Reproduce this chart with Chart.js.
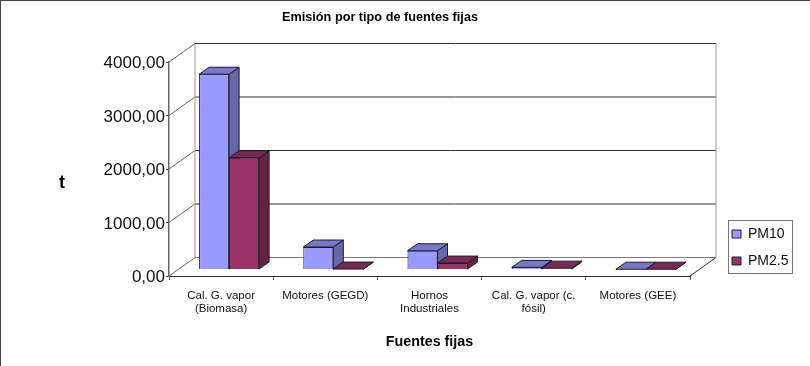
<!DOCTYPE html>
<html>
<head>
<meta charset="utf-8">
<style>
  html, body { margin: 0; padding: 0; background: #fff; }
  #wrap { width: 810px; height: 366px; position: relative; }
</style>
<script src="https://cdn.jsdelivr.net/npm/chart.js@4/dist/chart.umd.min.js"></script>
</head>
<body>
<div id="wrap"><canvas id="emisiones" width="810" height="366"></canvas></div>
<script>
// values
var categories = [
  ['Cal. G. vapor', '(Biomasa)'],
  'Motores (GEGD)',
  ['Hornos', 'Industriales'],
  ['Cal. G. vapor (c.', 'fósil)'],
  'Motores (GEE)'
];
var pm10 = [3650, 420, 350, 40, 5];
var pm25 = [2090, 8, 120, 25, 5];

var FONT = '"Liberation Sans", Arial, sans-serif';

// 3D look: how far the bars sit inside the box, bar depth, and back wall shift
var barShift = { x: 8, y: -6.5 };
var barDepth = { x: 10, y: -7 };
var wallShift = { x: 26, y: -18.5 };

var faceColors = [
  { top: '#7777cc', side: '#6666aa' },
  { top: '#7a2952', side: '#66233f' }
];

function line(ctx, x1, y1, x2, y2, color) {
  ctx.strokeStyle = color;
  ctx.lineWidth = 1;
  ctx.beginPath();
  ctx.moveTo(x1, y1);
  ctx.lineTo(x2, y2);
  ctx.stroke();
}

function poly(ctx, pts, fill) {
  ctx.fillStyle = fill;
  ctx.strokeStyle = '#1c1c2c';
  ctx.lineWidth = 1;
  ctx.lineJoin = 'round';
  ctx.beginPath();
  pts.forEach(function (p, i) {
    if (i === 0) ctx.moveTo(p[0], p[1]);
    else ctx.lineTo(p[0], p[1]);
  });
  ctx.closePath();
  ctx.fill();
  ctx.stroke();
}

// walls, floor and the wall gridlines
function drawBox(chart) {
  var ctx = chart.ctx;
  var a = chart.chartArea;
  var y = chart.scales.y;
  var wx = wallShift.x, wy = wallShift.y;
  y.ticks.forEach(function (t) {
    var py = y.getPixelForValue(t.value);
    line(ctx, a.left, py, a.left + wx, py + wy, '#666');
    if (t.value > 0) line(ctx, a.left + wx, py + wy, a.right + wx, py + wy, '#333');
  });
  line(ctx, a.left + wx, a.bottom + wy, a.right + wx, a.bottom + wy, '#777');
  line(ctx, a.left + wx, a.top + wy, a.left + wx, a.bottom + wy, '#999');
  line(ctx, a.right + wx, a.top + wy, a.right + wx, a.bottom + wy, '#999');
  line(ctx, a.right, a.bottom, a.right + wx, a.bottom + wy, '#333');
}

// top and side of each bar, the library draws the front
function drawBarFaces(chart) {
  var ctx = chart.ctx;
  var dx = barDepth.x, dy = barDepth.y;
  chart.data.datasets.forEach(function (ds, i) {
    chart.getDatasetMeta(i).data.forEach(function (bar) {
      var l = bar.x - bar.width / 2;
      var r = bar.x + bar.width / 2;
      poly(ctx, [[r, bar.y], [r + dx, bar.y + dy], [r + dx, bar.base + dy], [r, bar.base]], faceColors[i].side);
      poly(ctx, [[l, bar.y], [l + dx, bar.y + dy], [r + dx, bar.y + dy], [r, bar.y]], faceColors[i].top);
    });
  });
}

var box3d = {
  id: 'box3d',
  afterLayout: function (chart) {
    // legend sits outside the plot, on the lower right. bottom is left loose
    // or the library wraps the second row into a column that does not exist
    var lg = chart.legend;
    lg.left = 719; lg.right = 800; lg.top = 214; lg.bottom = 320;
    lg.width = 81; lg.height = 106;
  },
  beforeDatasetsDraw: function (chart) {
    var ctx = chart.ctx;
    drawBox(chart);
    ctx.save();
    ctx.translate(barShift.x, barShift.y);
    drawBarFaces(chart);
  },
  afterDatasetsDraw: function (chart) {
    chart.ctx.restore();
  },
  afterDraw: function (chart) {
    var ctx = chart.ctx;
    // title and the unrotated "t"
    ctx.save();
    ctx.fillStyle = '#000';
    ctx.textAlign = 'center';
    ctx.textBaseline = 'middle';
    ctx.font = 'bold 12.7px ' + FONT;
    ctx.fillText('Emisión por tipo de fuentes fijas', 380, 17);
    ctx.font = 'bold 18px ' + FONT;
    ctx.fillText('t', 62, 183);
    ctx.restore();
    // legend frame
    ctx.strokeStyle = '#777';
    ctx.lineWidth = 1;
    ctx.strokeRect(728.5, 220.5, 64, 53);
    // dark edge of the picture
    line(ctx, 0, 0.5, 810, 0.5, '#444');
    line(ctx, 0.5, 0, 0.5, 366, '#444');
  }
};

var chart = new Chart(document.getElementById('emisiones'), {
  type: 'bar',
  data: {
    labels: categories,
    datasets: [
      { label: 'PM10', data: pm10, backgroundColor: '#9999ff', borderColor: '#1c1c2c', borderWidth: 1 },
      { label: 'PM2.5', data: pm25, backgroundColor: '#993366', borderColor: '#1c1c2c', borderWidth: 1 }
    ]
  },
  options: {
    responsive: false,
    animation: false,
    layout: { padding: { top: 62, right: 120, left: 0, bottom: 0 } },
    datasets: { bar: { barPercentage: 1, categoryPercentage: 0.576 } },
    scales: {
      x: {
        afterFit: function (scale) { scale.height = 90; },
        grid: { offset: true, drawOnChartArea: false, color: '#555', tickLength: 4 },
        border: { color: '#333' },
        ticks: { color: '#111', font: { family: FONT, size: 11.5, lineHeight: 1.13 }, maxRotation: 0, autoSkip: false, padding: 9 },
        title: {
          display: true,
          text: 'Fuentes fijas',
          color: '#000',
          font: { family: FONT, size: 14.3, weight: 'bold' },
          padding: { top: 0, bottom: 15 }
        }
      },
      y: {
        min: 0,
        max: 4000,
        afterFit: function (scale) { scale.width = 169; },
        grid: { drawOnChartArea: false, color: '#444', tickLength: 3 },
        border: { color: '#666', width: 1.5 },
        ticks: {
          stepSize: 1000,
          padding: 1,
          labelOffset: 1.5,
          color: '#111',
          font: { family: FONT, size: 17 },
          callback: function (value) { return value.toFixed(2).replace('.', ','); }
        }
      }
    },
    plugins: {
      title: { display: false },
      tooltip: { enabled: false },
      legend: {
        display: true,
        position: 'chartArea',
        align: 'start',
        labels: {
          color: '#111',
          font: { family: FONT, size: 14 },
          boxWidth: 9,
          boxHeight: 8,
          padding: 13
        }
      }
    }
  },
  plugins: [box3d]
});
</script>
</body>
</html>
